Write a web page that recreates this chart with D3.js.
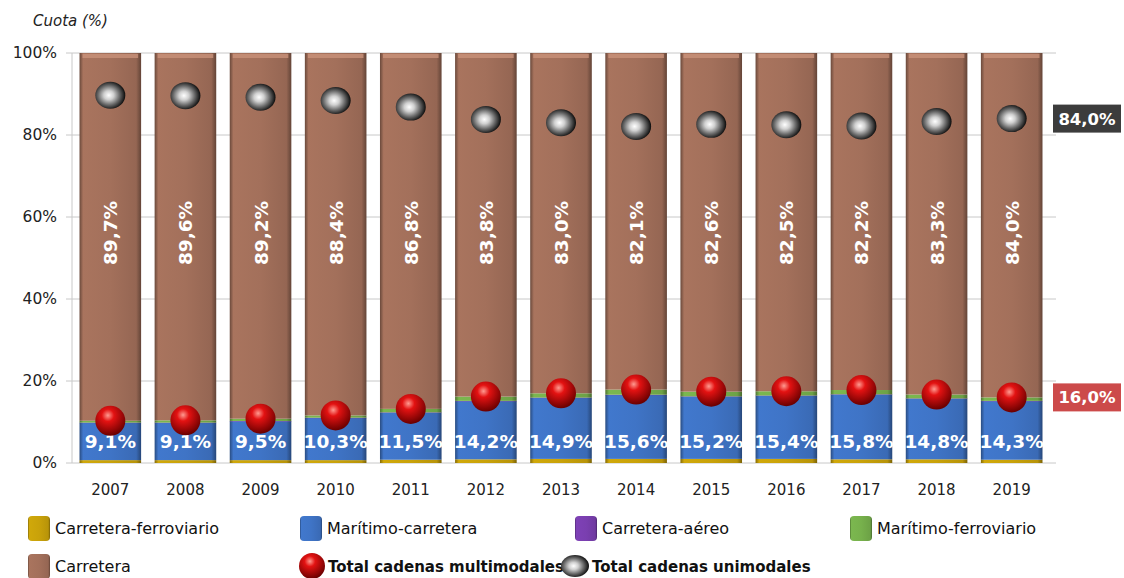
<!DOCTYPE html>
<html>
<head>
<meta charset="utf-8">
<script src="https://cdn.jsdelivr.net/npm/d3@7"></script>
<style>
  body { margin: 0; background: #fff; }
  svg text { font-family: "DejaVu Sans", sans-serif; }
</style>
</head>
<body>
<div id="chart"></div>
<script>
// data
const years = ["2007","2008","2009","2010","2011","2012","2013","2014","2015","2016","2017","2018","2019"];
const carreteraFerroviario = [0.7, 0.7, 0.7, 0.7, 0.8, 0.9, 1.0, 1.0, 1.0, 1.0, 0.9, 0.9, 0.8];
const maritimoCarretera = [9.1, 9.1, 9.5, 10.3, 11.5, 14.2, 14.9, 15.6, 15.2, 15.4, 15.8, 14.8, 14.3];
const carreteraAereo = [0.05, 0.05, 0.05, 0.05, 0.05, 0.05, 0.05, 0.05, 0.05, 0.05, 0.05, 0.05, 0.05];
const maritimoFerroviario = [0.45, 0.55, 0.55, 0.55, 0.85, 1.05, 1.05, 1.25, 1.15, 1.05, 1.05, 0.95, 0.85];
const carretera = [89.7, 89.6, 89.2, 88.4, 86.8, 83.8, 83.0, 82.1, 82.6, 82.5, 82.2, 83.3, 84.0];
const totalMultimodal = carretera.map(v => +(100 - v).toFixed(1));
const totalUnimodal = carretera.slice();
const yTicks = [0, 20, 40, 60, 80, 100];

const fmt = v => v.toFixed(1).replace(".", ",") + "%";

const width = 1124, height = 578;
const margin = { left: 72, right: 74, top: 53, bottom: 115 };

const svg = d3.select("#chart").append("svg")
    .attr("width", width)
    .attr("height", height);

const defs = svg.append("defs");

const series = [
    { key: "cf", name: "Carretera-ferroviario", values: carreteraFerroviario, color: "#c9a20a" },
    { key: "mc", name: "Marítimo-carretera", values: maritimoCarretera, color: "#3f74c6" },
    { key: "ca", name: "Carretera-aéreo", values: carreteraAereo, color: "#7a3fb0" },
    { key: "mf", name: "Marítimo-ferroviario", values: maritimoFerroviario, color: "#77b14c" },
    { key: "c", name: "Carretera", values: carretera, color: "#a3705b" }
];

// bevel-ish gradients
series.forEach(s => {
    const g = defs.append("linearGradient").attr("id", "g-" + s.key)
        .attr("x1", 0).attr("x2", 1).attr("y1", 0).attr("y2", 0);
    const c = d3.color(s.color);
    g.append("stop").attr("offset", "0%").attr("stop-color", c.darker(1.2));
    g.append("stop").attr("offset", "6%").attr("stop-color", c.brighter(0.1));
    g.append("stop").attr("offset", "50%").attr("stop-color", c);
    g.append("stop").attr("offset", "92%").attr("stop-color", c.darker(0.25));
    g.append("stop").attr("offset", "100%").attr("stop-color", c.darker(1.4));
});

const redBall = defs.append("radialGradient").attr("id", "redBall")
    .attr("cx", "42%").attr("cy", "32%").attr("r", "68%");
redBall.append("stop").attr("offset", "0%").attr("stop-color", "#ff9a90");
redBall.append("stop").attr("offset", "30%").attr("stop-color", "#e31212");
redBall.append("stop").attr("offset", "100%").attr("stop-color", "#6a0000");

const greyBall = defs.append("radialGradient").attr("id", "greyBall")
    .attr("cx", "45%").attr("cy", "50%").attr("r", "55%");
greyBall.append("stop").attr("offset", "0%").attr("stop-color", "#ffffff");
greyBall.append("stop").attr("offset", "30%").attr("stop-color", "#d0d0d0");
greyBall.append("stop").attr("offset", "65%").attr("stop-color", "#6a6a6a");
greyBall.append("stop").attr("offset", "100%").attr("stop-color", "#0a0a0a");

const x = d3.scaleBand()
    .domain(years)
    .range([margin.left, width - margin.right])
    .paddingInner(0.18)
    .paddingOuter(0.1);

const y = d3.scaleLinear()
    .domain([0, 100])
    .range([height - margin.bottom, margin.top]);

// gridlines
svg.append("g")
    .selectAll("line")
    .data(yTicks)
    .enter()
    .append("line")
    .attr("x1", margin.left - 6)
    .attr("x2", width - margin.right + 6)
    .attr("y1", d => y(d))
    .attr("y2", d => y(d))
    .attr("stroke", "#c8c8c8")
    .attr("stroke-width", 1);

svg.append("line")
    .attr("x1", margin.left).attr("x2", margin.left)
    .attr("y1", y(0)).attr("y2", y(100))
    .attr("stroke", "#c8c8c8");

// y axis labels
svg.append("g")
    .selectAll("text")
    .data(yTicks)
    .enter()
    .append("text")
    .attr("x", margin.left - 15)
    .attr("y", d => y(d) + 5)
    .attr("text-anchor", "end")
    .attr("font-size", 15.5)
    .attr("fill", "#222")
    .text(d => d + "%");

svg.append("text")
    .attr("x", 33).attr("y", 26)
    .attr("font-size", 15)
    .attr("font-style", "italic")
    .attr("fill", "#222")
    .text("Cuota (%)");

// x axis labels
svg.append("g")
    .selectAll("text")
    .data(years)
    .enter()
    .append("text")
    .attr("x", d => x(d) + x.bandwidth() / 2)
    .attr("y", y(0) + 32)
    .attr("text-anchor", "middle")
    .attr("font-size", 15)
    .attr("fill", "#222")
    .text(d => d);

// stacked bars
const stackData = years.map((yr, i) => {
    const row = { year: yr };
    series.forEach(s => row[s.key] = s.values[i]);
    return row;
});
const stacked = d3.stack().keys(series.map(s => s.key))(stackData);

svg.append("g")
    .selectAll("g")
    .data(stacked)
    .enter()
    .append("g")
    .attr("fill", d => "url(#g-" + d.key + ")")
    .selectAll("rect")
    .data(d => d)
    .enter()
    .append("rect")
    .attr("x", d => x(d.data.year))
    .attr("y", d => y(d[1]))
    .attr("width", x.bandwidth())
    .attr("height", d => Math.max(0.5, y(d[0]) - y(d[1])));

// top highlight on carretera bars
svg.append("g")
    .selectAll("rect")
    .data(years)
    .enter()
    .append("rect")
    .attr("x", d => x(d) + 3)
    .attr("y", y(100) + 1)
    .attr("width", x.bandwidth() - 6)
    .attr("height", 4)
    .attr("fill", "#c9927a")
    .attr("opacity", 0.8);

// carretera labels (vertical)
svg.append("g")
    .selectAll("text")
    .data(years)
    .enter()
    .append("text")
    .attr("transform", d => `translate(${x(d) + x.bandwidth() / 2 + 7},${y(100) + 180}) rotate(-90)`)
    .attr("text-anchor", "middle")
    .attr("font-size", 18.5)
    .attr("font-weight", "bold")
    .attr("fill", "#fff")
    .text((d, i) => fmt(carretera[i]));

// maritimo-carretera labels
svg.append("g")
    .selectAll("text")
    .data(years)
    .enter()
    .append("text")
    .attr("x", d => x(d) + x.bandwidth() / 2)
    .attr("y", y(0) - 15)
    .attr("text-anchor", "middle")
    .attr("font-size", 18.5)
    .attr("font-weight", "bold")
    .attr("fill", "#fff")
    .text((d, i) => fmt(maritimoCarretera[i]));

// total unimodal markers
svg.append("g")
    .selectAll("ellipse")
    .data(totalUnimodal)
    .enter()
    .append("ellipse")
    .attr("cx", (d, i) => x(years[i]) + x.bandwidth() / 2)
    .attr("cy", d => y(d))
    .attr("rx", 15)
    .attr("ry", 13.5)
    .attr("fill", "url(#greyBall)");

// total multimodal markers
svg.append("g")
    .selectAll("circle")
    .data(totalMultimodal)
    .enter()
    .append("circle")
    .attr("cx", (d, i) => x(years[i]) + x.bandwidth() / 2)
    .attr("cy", d => y(d))
    .attr("r", 15)
    .attr("fill", "url(#redBall)");

// end labels
const last = years.length - 1;
const endLabels = [
    { v: totalUnimodal[last], bg: "#3c3c3c" },
    { v: totalMultimodal[last], bg: "#cc4a4a" }
];
const endG = svg.append("g")
    .selectAll("g")
    .data(endLabels)
    .enter()
    .append("g")
    .attr("transform", d => `translate(${width - margin.right + 3},${y(d.v)})`);
endG.append("rect")
    .attr("x", 0).attr("y", -14)
    .attr("width", 68).attr("height", 28)
    .attr("fill", d => d.bg);
endG.append("text")
    .attr("x", 34).attr("y", 6)
    .attr("text-anchor", "middle")
    .attr("font-size", 16.5)
    .attr("font-weight", "bold")
    .attr("fill", "#fff")
    .text(d => fmt(d.v));

// legend
const legendItems = [
    { name: "Carretera-ferroviario", type: "box", key: "cf", x: 28, y: 528 },
    { name: "Marítimo-carretera", type: "box", key: "mc", x: 300, y: 528 },
    { name: "Carretera-aéreo", type: "box", key: "ca", x: 575, y: 528 },
    { name: "Marítimo-ferroviario", type: "box", key: "mf", x: 850, y: 528 },
    { name: "Carretera", type: "box", key: "c", x: 28, y: 566 },
    { name: "Total cadenas multimodales", type: "red", x: 298, y: 566 },
    { name: "Total cadenas unimodales", type: "grey", x: 562, y: 566 }
];
const lg = svg.append("g")
    .selectAll("g")
    .data(legendItems)
    .enter()
    .append("g")
    .attr("transform", d => `translate(${d.x},${d.y})`);

lg.filter(d => d.type === "box").append("rect")
    .attr("x", 0).attr("y", -12)
    .attr("width", 22).attr("height", 25)
    .attr("rx", 4)
    .attr("fill", d => "url(#g-" + d.key + ")");
lg.filter(d => d.type === "red").append("circle")
    .attr("cx", 14).attr("cy", 0).attr("r", 13)
    .attr("fill", "url(#redBall)");
lg.filter(d => d.type === "grey").append("ellipse")
    .attr("cx", 13).attr("cy", 0).attr("rx", 14).attr("ry", 11)
    .attr("fill", "url(#greyBall)");

lg.append("text")
    .attr("x", d => d.type === "box" ? 27 : 30)
    .attr("y", 6)
    .attr("font-size", d => d.type === "box" ? 16 : 15)
    .attr("font-weight", d => d.type === "box" ? "normal" : "bold")
    .attr("fill", "#111")
    .text(d => d.name);
</script>
</body>
</html>
